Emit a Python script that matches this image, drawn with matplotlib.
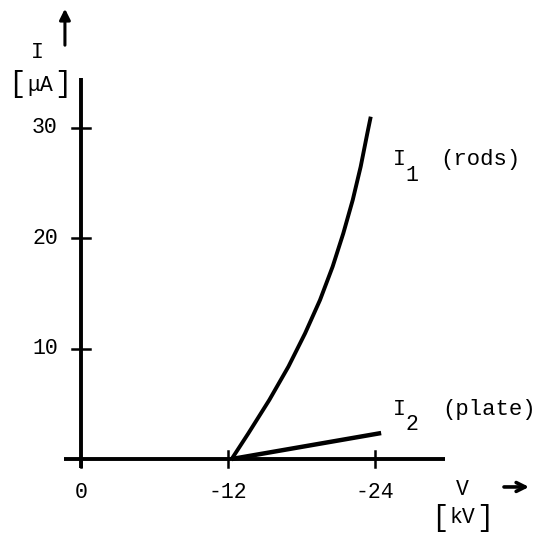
import numpy as np
import matplotlib.pyplot as plt

plt.rcParams['font.family'] = ['Liberation Mono', 'DejaVu Sans Mono']

# measured characteristics (voltage in kV, current in uA)
v_rods = [-12.30, -13.66, -15.37, -16.93, -18.29, -19.51,
          -20.54, -21.41, -22.18, -22.83, -23.37, -23.65]
i_rods = [0.0, 2.32, 5.34, 8.36, 11.37, 14.39,
          17.41, 20.42, 23.44, 26.46, 29.47, 30.98]
v_plate = [-12.3, -24.5]
i_plate = [0.0, 2.35]

x_ticks = [0, -12, -24]
x_labels = ['0', '-12', '-24']
y_ticks = [10, 20, 30]
y_labels = ['10', '20', '30']

LW = 2.8
FS = 15.5
BFS = 21

fig = plt.figure(figsize=(5.43, 5.40), dpi=100)
ax = fig.add_axes([0, 0, 1, 1])
ax.set_xlim(6.61, -37.71)
ax.set_ylim(-7.33, 41.54)
ax.axis('off')

# hand-drawn style axes
ax.plot([0, 0], [-0.8, 34.5], color='black', lw=LW, solid_capstyle='butt')
ax.plot([1.4, -29.7], [0, 0], color='black', lw=LW, solid_capstyle='butt')

for t, lab in zip(x_ticks, x_labels):
    ax.plot([t, t], [-0.7, 0.7 if t != 0 else 0], color='black', lw=1.8)
    ax.text(t, -3.0, lab, ha='center', va='center', fontsize=FS)
for t, lab in zip(y_ticks, y_labels):
    ax.plot([0.75, -0.75], [t, t], color='black', lw=1.8)
    ax.text(2.94, t, lab, ha='center', va='center', fontsize=FS)

# the two current curves
ax.plot(v_rods, i_rods, color='black', lw=LW, solid_capstyle='butt',
        solid_joinstyle='round')
ax.plot(v_plate, i_plate, color='black', lw=LW + 0.4, solid_capstyle='butt')

# curve labels
ax.text(-26.0, 27.1, 'I', ha='center', va='center', fontsize=FS)
ax.text(-27.0, 25.7, '1', ha='center', va='center', fontsize=FS)
ax.text(-32.6, 27.1, '(rods)', ha='center', va='center', fontsize=FS + 0.5)
ax.text(-26.0, 4.5, 'I', ha='center', va='center', fontsize=FS)
ax.text(-27.0, 3.1, '2', ha='center', va='center', fontsize=FS)
ax.text(-33.3, 4.5, '(plate)', ha='center', va='center', fontsize=FS + 0.5)

# axis names with tall unit brackets, and arrows
ax.text(3.6, 36.8, 'I', ha='center', va='center', fontsize=FS)
ax.text(5.25, 33.9, '[', ha='center', va='center', fontsize=BFS)
ax.text(3.35, 33.8, 'μA', ha='center', va='center', fontsize=FS)
ax.text(1.45, 33.9, ']', ha='center', va='center', fontsize=BFS)
ax.annotate('', xy=(1.31, 41.0), xytext=(1.31, 37.2),
            arrowprops=dict(arrowstyle='-|>', color='black', lw=2.2,
                            mutation_scale=16))

ax.text(-31.1, -2.8, 'V', ha='center', va='center', fontsize=FS)
ax.text(-29.3, -5.35, '[', ha='center', va='center', fontsize=BFS)
ax.text(-31.1, -5.3, 'kV', ha='center', va='center', fontsize=FS)
ax.text(-33.0, -5.35, ']', ha='center', va='center', fontsize=BFS)
ax.annotate('', xy=(-36.8, -2.53), xytext=(-34.3, -2.53),
            arrowprops=dict(arrowstyle='->', color='black', lw=2.6,
                            mutation_scale=16))

fig.savefig('out.png', dpi=100)
